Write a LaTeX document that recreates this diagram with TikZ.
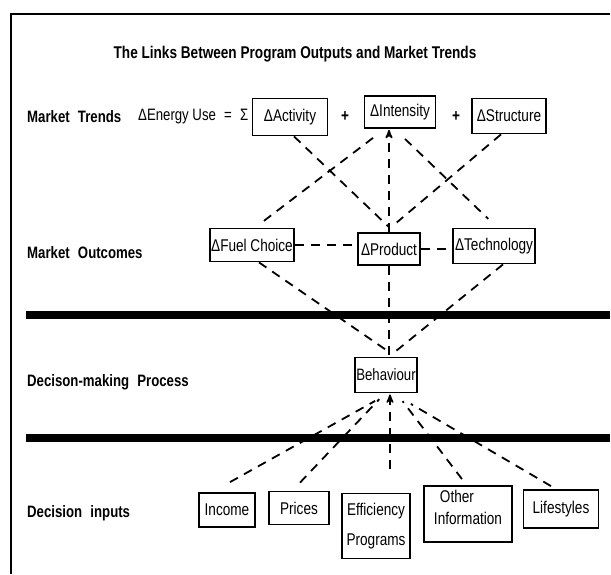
\documentclass[tikz,border=0pt]{standalone}
\usepackage{fontspec}
\setmainfont{Liberation Sans}[FakeStretch=0.8]
\usetikzlibrary{arrows}

\begin{document}
\begin{tikzpicture}[x=1pt,y=-1pt,>=stealth',shorten >=1pt,
  box node/.style={draw,line width=1.8pt,inner sep=1pt,align=center,font=\fontsize{17}{22}\selectfont},
  row label/.style={anchor=west,inner sep=0pt,font=\fontsize{16.5}{18}\selectfont\bfseries},
  link/.style={line width=1.8pt,dash pattern=on 9pt off 7pt}]
  \useasboundingbox (0,0) rectangle (611,574);
  \draw[line width=1.5pt] (11,574) -- (11,14) -- (611,14);

  \node[font=\fontsize{17}{20}\selectfont\bfseries] (title) at (295,54) {The Links Between Program Outputs and Market Trends};

  % market trends
  \node[row label] (trends) at (27,117) {Market\enspace Trends};
  \node[anchor=west,inner sep=0pt,font=\fontsize{16.5}{18}\selectfont] (energy) at (138,117) {ΔEnergy Use\enspace=\enspace Σ};
  \node[box node,minimum width=75pt,minimum height=37pt] (act) at (290,117) {ΔActivity};
  \node[font=\fontsize{17}{18}\selectfont\bfseries] (plus1) at (345,117) {+};
  \node[box node,minimum width=71pt,minimum height=32pt] (int) at (400,112) {ΔIntensity};
  \node[font=\fontsize{17}{18}\selectfont\bfseries] (plus2) at (456,117) {+};
  \node[box node,minimum width=74pt,minimum height=35pt] (str) at (509,116) {ΔStructure};

  % market outcomes
  \node[row label] (outcomes) at (27,253) {Market\enspace Outcomes};
  \node[box node,minimum width=80pt,minimum height=33pt] (fuel) at (252,245) {ΔFuel Choice};
  \node[box node,minimum width=62pt,minimum height=32pt] (prod) at (389,249) {ΔProduct};
  \node[box node,minimum width=82pt,minimum height=35pt] (tech) at (494,246) {ΔTechnology};

  \draw[line width=7.5pt] (26,315) -- (611,315);

  % decision-making process
  \node[row label] (process) at (27,382) {Decison-making\enspace Process};
  \node[box node,minimum width=61pt,minimum height=35pt,font=\fontsize{16.5}{18}\selectfont] (beh) at (386,375) {Behaviour};

  \draw[line width=7.5pt] (26,438) -- (611,438);

  % decision inputs
  \node[row label] (inputs) at (27,513) {Decision\enspace inputs};
  \node[box node,minimum width=56pt,minimum height=34pt] (inc) at (227,510) {Income};
  \node[box node,minimum width=60pt,minimum height=33pt] (pri) at (299,508) {Prices};
  \node[box node,minimum width=68pt,minimum height=65pt,font=\fontsize{17}{30}\selectfont] (eff) at (376,526) {Efficiency\\Programs};
  \node[box node,minimum width=88pt,minimum height=56pt,align=left,text depth=14pt] (oth) at (468,514) {\hspace{6pt}Other\\Information};
  \node[box node,minimum width=75pt,minimum height=38pt] (life) at (561,509) {Lifestyles};

\path[link]
  ([xshift=4pt]act.south) edge ([xshift=1pt,yshift=4pt]prod.north)
  ([xshift=-27pt,yshift=-9pt]int.south) edge ([xshift=7pt,yshift=3pt]fuel.north)
  ([xshift=5pt,yshift=-10pt]int.south) edge ([xshift=-5pt,yshift=8pt]tech.north)
  ([xshift=-8pt]str.south) edge ([xshift=7pt,yshift=9pt]prod.north)
  (prod.north) edge[->] (prod.north |- int.south)
  (fuel.east) edge (fuel.east -| prod.west)
  (prod.east) edge (prod.east -| tech.west)
  ([xshift=7pt]fuel.south) edge ([xshift=4pt,yshift=4pt]beh.north)
  (prod.south) edge (prod.south |- beh.north)
  ([xshift=9pt]tech.south) edge ([xshift=8pt,yshift=4pt]beh.north)
  ([xshift=3pt,yshift=10pt]inc.north) edge ([xshift=-10pt,yshift=-7pt]beh.south)
  ([xshift=1pt,yshift=8pt]pri.north) edge ([xshift=-6pt,yshift=-5pt]beh.south)
  ([xshift=14pt,yshift=24pt]eff.north) edge[->] ([xshift=4pt]beh.south)
  ([xshift=-6pt,yshift=6pt]oth.north) edge ([xshift=16pt,yshift=-7pt]beh.south)
  ([xshift=-10pt,yshift=3pt]life.north) edge ([xshift=24pt,yshift=-10pt]beh.south)
;
\end{tikzpicture}
\end{document}
